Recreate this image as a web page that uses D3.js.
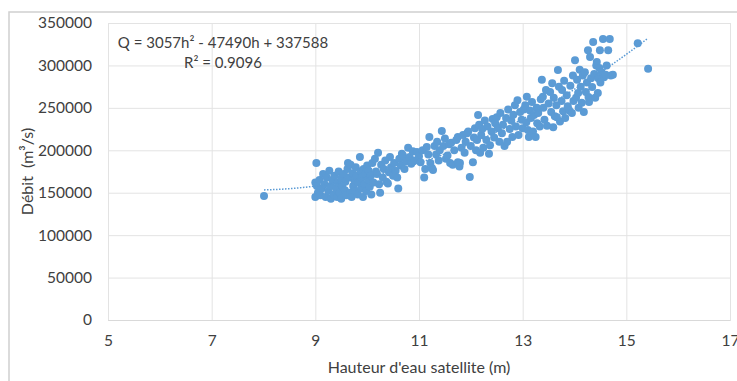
<!DOCTYPE html>
<html>
<head>
<meta charset="utf-8">
<script src="https://cdn.jsdelivr.net/npm/d3@7"></script>
<style>
  body { margin: 0; background: #fff; }
  text { font-family: Lato, "Open Sans", sans-serif; fill: #404040; }
</style>
</head>
<body>
<div id="container"></div>
<script>
// hauteur (m), debit (m3/s)
const points = [
  [8.01,146000],[9.02,185000],[9.0,162000],[9.03,158000],[9.05,150000],[9.0,145000],[9.08,165000],[9.1,147000],[9.12,155000],
  [9.15,172000],[9.18,160000],[9.2,145000],[9.22,168000],[9.25,152000],[9.27,176000],[9.3,143000],[9.3,158000],[9.33,165000],
  [9.35,148000],[9.37,170000],[9.4,155000],[9.42,145000],[9.43,162000],[9.45,175000],[9.47,150000],[9.5,167000],[9.5,143000],
  [9.52,158000],[9.55,172000],[9.57,153000],[9.58,163000],[9.6,147000],
  [9.62,178000],[9.63,185000],[9.65,168000],[9.67,150000],[9.68,183000],[9.7,145000],[9.72,173000],[9.73,158000],[9.75,165000],
  [9.77,152000],[9.78,180000],[9.8,170000],[9.82,148000],[9.83,162000],[9.86,192000],[9.87,175000],[9.88,155000],[9.9,168000],
  [9.92,145000],[9.93,178000],[9.95,160000],[9.97,172000],[9.98,152000],[10.0,182000],[10.02,165000],[10.03,176000],
  [10.05,157000],[10.07,170000],[10.08,148000],[10.1,185000],
  [10.12,162000],[10.15,190000],[10.17,175000],[10.19,172000],[10.21,197000],[10.23,160000],[10.25,150000],[10.27,183000],
  [10.3,168000],[10.32,178000],[10.35,188000],[10.37,163000],[10.4,161000],[10.42,174000],[10.44,192000],[10.46,180000],
  [10.5,170000],[10.52,185000],[10.55,176000],[10.58,168000],[10.6,155000],[10.62,190000],[10.65,182000],[10.67,196000],
  [10.69,194000],[10.72,178000],[10.75,187000],[10.79,203000],[10.82,192000],[10.85,184000],[10.88,199000],[10.92,188000],
  [10.96,198000],[11.0,193000],[11.03,186000],[11.07,200000],[11.1,168000],[11.12,178000],[11.15,204000],[11.18,195000],
  [11.2,215700],[11.22,185000],[11.25,179000],[11.27,176700],[11.3,205000],[11.33,195000],[11.35,210000],[11.38,188000],
  [11.4,200000],[11.44,222700],[11.47,205000],[11.5,214000],[11.52,190000],[11.55,194000],[11.58,207000],[11.6,185000],
  [11.62,209000],[11.65,183000],[11.68,200000],[11.72,212000],[11.75,186000],[11.75,215700],[11.78,181000],[11.79,185000],
  [11.82,203000],[11.85,218000],[11.88,197000],[11.9,210000],[11.93,220000],[11.95,222000],[11.98,168500],[12.0,205000],
  [12.04,186000],[12.06,215000],[12.08,226000],[12.1,200000],[12.12,212000],[12.14,241600],[12.16,230000],[12.18,197000],
  [12.2,218000],[12.22,225000],[12.24,203000],[12.27,235000],[12.3,212000],[12.32,228000],[12.35,196000],[12.37,206000],
  [12.4,222000],[12.42,237000],[12.45,215000],[12.47,232000],[12.5,239000],[12.52,226000],[12.55,210000],[12.57,244000],
  [12.6,220000],[12.62,230000],[12.65,205000],[12.68,238000],[12.7,210000],[12.72,248000],[12.75,225000],[12.78,235000],
  [12.8,215700],[12.82,242000],[12.85,253000],[12.87,228000],[12.9,259000],[12.92,218000],[12.95,245000],[12.98,236000],
  [13.0,226000],[13.02,248000],[13.05,253000],[13.07,233000],[13.08,263000],[13.1,224000],[13.12,215700],[13.14,247000],
  [13.16,238000],[13.18,257000],[13.2,222000],[13.22,241600],[13.25,215700],[13.27,250000],[13.28,232000],[13.3,244000],
  [13.33,228000],[13.35,260000],[13.37,283000],[13.39,263000],[13.4,250000],[13.42,236000],[13.45,271000],[13.47,229000],
  [13.5,255000],[13.53,268700],[13.55,245000],[13.57,279000],[13.59,227000],[13.6,262000],[13.62,240000],[13.65,253000],
  [13.66,239000],[13.68,294600],[13.7,275000],[13.72,234000],[13.75,258000],[13.76,271000],[13.78,246000],[13.8,282000],
  [13.82,238000],[13.85,265000],[13.87,252000],[13.9,247000],[13.92,276000],[13.95,244000],[13.97,288000],[13.98,258000],
  [14.01,306000],[14.03,262000],[14.05,283000],[14.07,267500],[14.08,250000],[14.1,295000],[14.12,275000],[14.14,256000],
  [14.16,288000],[14.18,245000],[14.2,292000],[14.22,268700],[14.24,280000],[14.26,318000],[14.27,262800],[14.28,257000],
  [14.3,310000],[14.32,285000],[14.34,274600],[14.36,327600],[14.38,290000],[14.4,262000],[14.42,300000],[14.43,304000],
  [14.45,267500],[14.46,285000],[14.48,297000],[14.49,318000],[14.5,280000],[14.52,292000],[14.55,331000],[14.57,286000],
  [14.6,289000],[14.62,300000],[14.65,318000],[14.68,331000],[14.7,288000],[14.74,289000],[15.22,326000],[15.42,296000]
];
const xTicks = [5, 7, 9, 11, 13, 15, 17];
const yTicks = [0, 50000, 100000, 150000, 200000, 250000, 300000, 350000];
// polynomial trendline shown on the chart
const trendCoef = [3057, -47490, 337588];
const eqLabel = "Q = 3057h² - 47490h + 337588";
const r2Label = "R² = 0.9096";
const xTitle = "Hauteur d'eau satellite (m)";
const yTitle = "Débit  (m³/s)";

const W = 737, H = 381;
const margin = { top: 23, right: 7, bottom: 61, left: 108 };
const width = W - margin.left - margin.right;
const height = H - margin.top - margin.bottom;
const color = "#5b9bd5";

const root = d3.select("#container")
  .append("svg")
  .attr("width", W)
  .attr("height", H);

// outer chart border
root.append("rect")
  .attr("x", 9).attr("y", 12)
  .attr("width", W).attr("height", H)
  .attr("fill", "none")
  .attr("stroke", "#d0d0d0")
  .attr("stroke-width", 1.5);

const svg = root.append("g")
  .attr("transform", "translate(" + margin.left + "," + margin.top + ")");

const x = d3.scaleLinear().domain([5, 17]).range([0, width]);
const y = d3.scaleLinear().domain([0, 350000]).range([height, 0]);

// gridlines
svg.append("g")
  .attr("class", "grid")
  .call(d3.axisLeft(y).tickValues(yTicks).tickSize(-width).tickFormat(""))
  .call(g => g.select(".domain").remove())
  .call(g => g.selectAll("line").attr("stroke", "#e3e3e3"));
svg.append("g")
  .attr("class", "grid")
  .attr("transform", "translate(0," + height + ")")
  .call(d3.axisBottom(x).tickValues(xTicks).tickSize(-height).tickFormat(""))
  .call(g => g.select(".domain").attr("stroke", "#d9d9d9"))
  .call(g => g.selectAll("line").attr("stroke", "#e3e3e3"));

// tick labels
svg.append("g")
  .call(d3.axisLeft(y).tickValues(yTicks).tickSize(0).tickPadding(16).tickFormat(d3.format("d")))
  .call(g => g.select(".domain").remove())
  .call(g => g.selectAll("text").style("font-size", "15.5px"));
svg.append("g")
  .attr("transform", "translate(0," + height + ")")
  .call(d3.axisBottom(x).tickValues(xTicks).tickSize(0).tickPadding(15).tickFormat(d3.format("d")))
  .call(g => g.select(".domain").remove())
  .call(g => g.selectAll("text").style("font-size", "15.5px"));

// axis titles
svg.append("text")
  .attr("x", width / 2)
  .attr("y", height + 53)
  .attr("text-anchor", "middle")
  .style("font-size", "16px")
  .text(xTitle);
svg.append("text")
  .attr("transform", "translate(" + (27 - margin.left) + "," + (height / 2) + ") rotate(-90)")
  .attr("text-anchor", "middle")
  .attr("dy", "0.35em")
  .style("font-size", "16px")
  .style("white-space", "pre")
  .text(yTitle);

// points
svg.append("g")
  .selectAll("circle")
  .data(points)
  .join("circle")
  .attr("cx", d => x(d[0]))
  .attr("cy", d => y(d[1]))
  .attr("r", 4)
  .attr("fill", color);

// trendline
const ext = d3.extent(points, d => d[0]);
const trend = d3.range(ext[0], ext[1] + 0.001, 0.05).map(h => [h, trendCoef[0] * h * h + trendCoef[1] * h + trendCoef[2]]);
svg.append("path")
  .datum(trend)
  .attr("fill", "none")
  .attr("stroke", color)
  .attr("stroke-width", 1.5)
  .attr("stroke-dasharray", "1.5,1.5")
  .attr("d", d3.line().x(d => x(d[0])).y(d => y(d[1])));

// equation
svg.append("text")
  .attr("x", 223 - margin.left)
  .attr("y", 43 - margin.top)
  .attr("dy", "0.35em")
  .attr("text-anchor", "middle")
  .style("font-size", "15px")
  .text(eqLabel);
svg.append("text")
  .attr("x", 223 - margin.left)
  .attr("y", 63 - margin.top)
  .attr("dy", "0.35em")
  .attr("text-anchor", "middle")
  .style("font-size", "15px")
  .text(r2Label);
</script>
</body>
</html>
